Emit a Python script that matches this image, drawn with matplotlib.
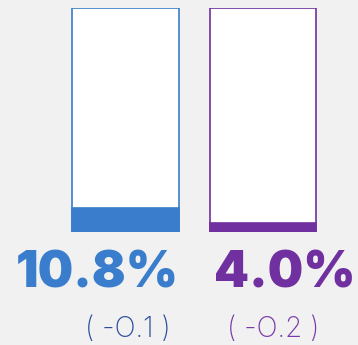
import matplotlib
matplotlib.use("Agg")
import matplotlib.pyplot as plt

# share of each group, and change vs previous period
labels = ["A", "B"]
values = [10.8, 4.0]
value_text = ["10.8%", "4.0%"]
change_text = ["( -O.1 )", "( -O.2 )"]
colors = ["#3a7dcc", "#7030a0"]
change_colors = ["#2c4c9e", "#7a3aa8"]

W, H = 358, 345
fig = plt.figure(figsize=(W / 100, H / 100), dpi=100)
fig.patch.set_facecolor("#f1f1f1")

# bar area: 100% box with the filled share at the bottom
ax = fig.add_axes([0, (H - 232) / H, 1, 224 / H])
ax.set_facecolor("none")
x = range(len(values))
ax.bar(x, [100] * len(values), width=0.778, color="white",
       edgecolor=colors, linewidth=1.2)
ax.bar(x, values, width=0.778, color=colors, edgecolor=colors, linewidth=1.2)
ax.set_xlim(-0.9127, 1.691)
ax.set_ylim(0, 100)
ax.axis("off")

# value labels under the bars
tx = [97.5, 285]
for i in range(len(values)):
    fig.text(tx[i] / W, 1 - 287 / H, value_text[i], ha="center", va="baseline",
             fontsize=36, fontweight="black", family="Inter", color=colors[i])

cx = [127.5, 273.5]
for i in range(len(values)):
    fig.text(cx[i] / W, 1 - 337 / H, change_text[i], ha="center", va="baseline",
             fontsize=20, fontweight="light", family="Inter", color=change_colors[i])

fig.savefig("out.png", dpi=100, facecolor=fig.get_facecolor())
